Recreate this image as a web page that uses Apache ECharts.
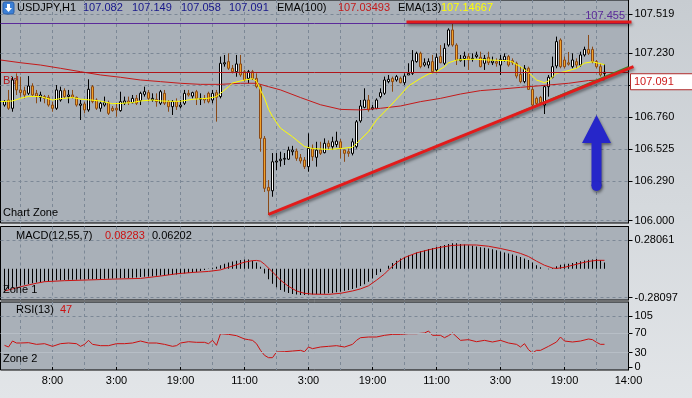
<!DOCTYPE html>
<html>
<head>
<meta charset="utf-8">
<script src="https://cdn.jsdelivr.net/npm/echarts@6/dist/echarts.min.js"></script>
<style>
html, body { margin: 0; padding: 0; }
#container { width: 692px; height: 398px; }
</style>
</head>
<body>
<div id="container"></div>
<script>
var FONT = '"Liberation Sans", Arial, sans-serif';
var GRID_DASH = '#7c8896';

// time labels along the bottom, one every 16 hourly bars
var timeLabels = ['8:00', '3:00', '19:00', '11:00', '3:00', '19:00', '11:00', '3:00', '19:00', '14:00'];
var priceTicks = [106.000, 106.290, 106.525, 106.760, 106.995, 107.230, 107.519];
var macdTicks = [-0.28097, 0.28061];
var rsiTicks = [0, 30, 70, 105];

// hourly candles [open, close, low, high], bars 1..151
var candles = [
  [106.850, 106.875, 106.838, 106.887], [106.887, 106.826, 106.814, 106.961], [106.826, 107.034, 106.801, 107.058],
  [107.034, 106.961, 106.924, 107.083], [106.961, 106.941, 106.912, 107.058], [106.956, 106.924, 106.899, 106.985],
  [106.936, 106.990, 106.924, 107.063], [106.990, 106.924, 106.912, 107.010], [106.936, 106.916, 106.863, 106.961],
  [106.907, 106.924, 106.875, 106.948], [106.912, 106.899, 106.863, 106.924], [106.907, 106.850, 106.838, 106.924],
  [106.850, 106.826, 106.801, 106.875], [106.826, 106.961, 106.814, 106.997], [106.887, 106.956, 106.875, 106.985],
  [106.956, 106.912, 106.899, 106.973], [106.912, 106.924, 106.863, 106.961], [106.924, 106.907, 106.899, 106.961],
  [106.907, 106.850, 106.838, 106.912], [106.848, 106.858, 106.740, 106.887], [106.858, 106.814, 106.789, 106.875],
  [106.814, 106.966, 106.801, 107.039], [106.985, 106.875, 106.863, 106.997], [106.887, 106.826, 106.814, 106.899],
  [106.826, 106.863, 106.801, 106.875], [106.850, 106.867, 106.838, 106.912], [106.867, 106.789, 106.777, 106.882],
  [106.826, 106.809, 106.801, 106.843], [106.826, 106.814, 106.765, 106.863], [106.809, 106.875, 106.801, 106.948],
  [106.863, 106.880, 106.850, 106.912], [106.880, 106.867, 106.850, 106.912], [106.867, 106.899, 106.863, 106.924],
  [106.899, 106.863, 106.850, 106.924], [106.882, 106.936, 106.850, 106.948], [106.929, 106.948, 106.912, 106.985],
  [106.941, 106.899, 106.875, 106.961], [106.887, 106.899, 106.875, 106.936], [106.892, 106.875, 106.838, 106.936],
  [106.863, 106.948, 106.850, 106.961], [106.936, 106.863, 106.850, 106.961], [106.875, 106.838, 106.801, 106.887],
  [106.838, 106.875, 106.777, 106.887], [106.875, 106.838, 106.814, 106.899], [106.838, 106.850, 106.826, 106.887],
  [106.863, 106.936, 106.850, 106.961], [106.936, 106.924, 106.912, 106.961], [106.916, 106.941, 106.899, 106.948],
  [106.948, 106.899, 106.850, 106.961], [106.892, 106.899, 106.850, 106.936], [106.899, 106.887, 106.863, 106.924],
  [106.936, 106.875, 106.863, 106.948], [106.887, 106.936, 106.863, 106.961], [106.941, 106.907, 106.728, 106.961],
  [106.912, 107.157, 106.899, 107.206], [107.152, 107.161, 107.132, 107.218], [107.169, 107.120, 107.108, 107.230],
  [107.120, 107.095, 107.083, 107.144], [107.095, 107.152, 107.058, 107.218], [107.152, 107.071, 107.058, 107.218],
  [107.095, 107.034, 107.022, 107.108], [107.046, 107.095, 107.010, 107.108], [107.095, 107.046, 107.034, 107.108],
  [107.046, 106.985, 106.973, 107.083], [106.985, 106.605, 106.507, 107.000], [106.605, 106.238, 106.211, 106.622],
  [106.245, 106.220, 106.042, 106.299], [106.220, 106.433, 106.176, 106.497], [106.431, 106.438, 106.372, 106.497],
  [106.441, 106.452, 106.397, 106.507], [106.452, 106.458, 106.409, 106.497], [106.452, 106.519, 106.446, 106.544],
  [106.507, 106.519, 106.480, 106.550], [106.512, 106.458, 106.440, 106.530], [106.463, 106.439, 106.420, 106.490],
  [106.446, 106.397, 106.380, 106.468], [106.397, 106.532, 106.360, 106.642], [106.532, 106.470, 106.440, 106.560],
  [106.466, 106.519, 106.397, 106.580], [106.519, 106.495, 106.483, 106.580], [106.500, 106.569, 106.495, 106.605],
  [106.569, 106.544, 106.520, 106.590], [106.544, 106.580, 106.520, 106.617], [106.560, 106.585, 106.540, 106.654],
  [106.580, 106.532, 106.458, 106.600], [106.519, 106.495, 106.433, 106.520], [106.507, 106.495, 106.470, 106.530],
  [106.495, 106.580, 106.480, 106.605], [106.544, 106.727, 106.530, 106.740], [106.733, 106.843, 106.720, 106.887],
  [106.833, 106.887, 106.826, 106.973], [106.887, 106.814, 106.801, 106.924], [106.821, 106.831, 106.814, 106.850],
  [106.826, 106.887, 106.819, 106.899], [106.912, 106.941, 106.899, 106.973], [106.936, 107.034, 106.924, 107.059],
  [107.022, 107.039, 107.010, 107.071], [107.046, 107.022, 106.948, 107.059], [107.034, 107.059, 107.022, 107.071],
  [107.046, 107.014, 107.010, 107.059], [107.014, 107.063, 106.997, 107.083], [107.071, 107.083, 107.071, 107.157],
  [107.083, 107.176, 107.071, 107.254], [107.169, 107.230, 107.161, 107.242], [107.230, 107.132, 107.120, 107.242],
  [107.144, 107.161, 107.132, 107.193], [107.144, 107.169, 107.120, 107.193], [107.169, 107.095, 107.083, 107.218],
  [107.108, 107.201, 107.088, 107.230], [107.206, 107.161, 107.157, 107.291], [107.157, 107.267, 107.144, 107.304],
  [107.291, 107.402, 107.279, 107.414], [107.402, 107.291, 107.279, 107.451], [107.291, 107.181, 107.144, 107.304],
  [107.176, 107.188, 107.169, 107.218], [107.193, 107.210, 107.132, 107.242], [107.206, 107.181, 107.108, 107.230],
  [107.186, 107.193, 107.169, 107.230], [107.206, 107.218, 107.193, 107.242], [107.201, 107.132, 107.127, 107.242],
  [107.157, 107.193, 107.108, 107.218], [107.201, 107.161, 107.144, 107.242], [107.161, 107.174, 107.144, 107.206],
  [107.169, 107.157, 107.132, 107.193], [107.144, 107.186, 107.071, 107.218], [107.181, 107.206, 107.169, 107.230],
  [107.206, 107.144, 107.132, 107.218], [107.176, 107.161, 107.144, 107.193], [107.157, 107.063, 107.046, 107.169],
  [107.076, 107.022, 107.010, 107.132], [107.022, 107.120, 107.010, 107.144], [107.120, 106.965, 106.961, 107.132],
  [106.965, 106.850, 106.843, 106.985], [106.899, 106.862, 106.850, 106.912], [106.907, 106.867, 106.850, 106.917],
  [106.850, 106.985, 106.784, 106.997], [106.985, 107.054, 106.912, 107.071], [107.054, 107.132, 107.046, 107.206],
  [107.137, 107.316, 107.120, 107.353], [107.328, 107.132, 107.120, 107.340], [107.181, 107.132, 107.120, 107.206],
  [107.160, 107.150, 107.140, 107.240], [107.132, 107.181, 107.120, 107.230], [107.169, 107.144, 107.120, 107.193],
  [107.144, 107.218, 107.132, 107.242], [107.218, 107.259, 107.206, 107.279], [107.259, 107.230, 107.218, 107.365],
  [107.259, 107.169, 107.157, 107.279], [107.169, 107.132, 107.120, 107.181], [107.132, 107.071, 107.059, 107.157],
  [107.082, 107.091, 107.058, 107.149]
];

// [bar, value]
var emaFast = [
  [0, 106.875], [3, 106.880], [5, 106.899], [7, 106.914], [10, 106.912], [13, 106.887], [15, 106.897], [18, 106.905],
  [20, 106.893], [23, 106.886], [25, 106.879], [28, 106.860], [30, 106.862], [33, 106.868], [35, 106.880], [38, 106.887],
  [40, 106.880], [43, 106.877], [45, 106.878], [48, 106.892], [52, 106.900], [54, 106.912], [55, 106.936], [57, 106.985],
  [58, 107.012], [61, 107.034], [63, 107.044], [64, 107.025], [65, 106.960], [66, 106.900], [67, 106.820], [68, 106.765],
  [70, 106.680], [73, 106.617], [76, 106.545], [78, 106.530], [82, 106.524], [85, 106.530], [88, 106.540], [89, 106.568],
  [92, 106.654], [94, 106.740], [97, 106.830], [100, 106.924], [102, 106.990], [105, 107.046], [107, 107.078],
  [109, 107.095], [111, 107.132], [112, 107.160], [114, 107.181], [117, 107.186], [119, 107.186], [122, 107.181],
  [127, 107.176], [128, 107.165], [130, 107.132], [132, 107.090], [134, 107.034], [136, 107.014], [137, 107.028],
  [139, 107.083], [141, 107.095], [144, 107.120], [146, 107.158], [148, 107.168], [151, 107.14667]
];
var emaSlow = [
  [0, 107.181], [5, 107.161], [10, 107.144], [15, 107.120], [20, 107.095], [25, 107.071], [30, 107.054], [35, 107.034],
  [40, 107.022], [45, 107.010], [50, 107.002], [55, 107.002], [60, 107.010], [64, 107.010], [67, 106.985], [70, 106.961],
  [75, 106.905], [80, 106.852], [85, 106.818], [90, 106.814], [95, 106.826], [100, 106.843], [105, 106.875],
  [110, 106.899], [115, 106.931], [120, 106.956], [125, 106.967], [130, 106.980], [135, 106.992], [142, 107.010],
  [147, 107.030], [151, 107.03493]
];

// MACD histogram, bars 1..151
var macdHist = [
  -0.205, -0.195, -0.185, -0.175, -0.165, -0.155, -0.148, -0.140, -0.133, -0.127,
  -0.122, -0.118, -0.115, -0.112, -0.110, -0.108, -0.107, -0.106, -0.105, -0.104,
  -0.103, -0.102, -0.100, -0.099, -0.098, -0.097, -0.096, -0.095, -0.094, -0.092,
  -0.090, -0.088, -0.086, -0.083, -0.080, -0.077, -0.074, -0.071, -0.068, -0.065,
  -0.062, -0.060, -0.058, -0.055, -0.050, -0.045, -0.040, -0.035, -0.030, -0.022,
  -0.012, -0.002, 0.010, 0.020, 0.035, 0.050, 0.062, 0.072, 0.080, 0.087,
  0.092, 0.090, 0.080, 0.062, 0.020, -0.045, -0.100, -0.145, -0.180, -0.205,
  -0.222, -0.235, -0.245, -0.250, -0.254, -0.255, -0.253, -0.250, -0.248, -0.245,
  -0.242, -0.238, -0.234, -0.228, -0.222, -0.214, -0.205, -0.195, -0.183, -0.168,
  -0.150, -0.125, -0.095, -0.060, -0.030, 0.000, 0.030, 0.058, 0.080, 0.100,
  0.115, 0.130, 0.145, 0.160, 0.172, 0.182, 0.192, 0.202, 0.212, 0.222,
  0.232, 0.242, 0.250, 0.248, 0.242, 0.236, 0.230, 0.225, 0.218, 0.210,
  0.205, 0.198, 0.190, 0.180, 0.170, 0.160, 0.150, 0.140, 0.128, 0.115,
  0.100, 0.085, 0.062, 0.035, 0.015, 0.002, -0.005, 0.008, 0.025, 0.040,
  0.045, 0.050, 0.058, 0.066, 0.074, 0.082, 0.088, 0.092, 0.095, 0.085, 0.06202
];
var macdSignal = [
  [1, -0.215], [3, -0.195], [6, -0.165], [9, -0.140], [11, -0.125], [16, -0.115], [22, -0.108], [28, -0.100],
  [35, -0.093], [40, -0.070], [44, -0.048], [48, -0.035], [52, -0.025], [55, -0.010], [57, 0.015], [59, 0.040],
  [61, 0.065], [63, 0.080], [64, 0.082], [65, 0.075], [66, 0.045], [68, -0.030], [70, -0.110], [72, -0.170],
  [74, -0.215], [76, -0.238], [78, -0.246], [82, -0.248], [85, -0.238], [88, -0.215], [90, -0.195], [92, -0.165],
  [94, -0.110], [96, -0.050], [97, -0.010], [99, 0.060], [101, 0.110], [104, 0.155], [107, 0.185], [110, 0.210],
  [113, 0.228], [116, 0.233], [119, 0.232], [122, 0.220], [125, 0.198], [128, 0.172], [130, 0.150], [132, 0.120],
  [134, 0.075], [136, 0.035], [138, 0.008], [139, 0.004], [141, 0.015], [143, 0.035], [145, 0.055], [147, 0.072],
  [149, 0.083], [151, 0.08283]
];
var rsi = [
  [1, 44.9], [2, 41.4], [3, 53.8], [4, 49.7], [5, 49.7], [7, 50.4], [9, 46.9], [11, 48.3], [13, 42.8], [15, 48.3],
  [17, 49.7], [19, 48.3], [20, 42.8], [21, 46.9], [22, 55.2], [23, 46.9], [25, 44.2], [27, 44.2], [29, 48.3],
  [31, 48.3], [33, 49.7], [35, 53.8], [37, 49.7], [39, 49.7], [41, 46.9], [43, 42.8], [44, 44.2], [45, 49.7],
  [47, 52.4], [49, 51.1], [51, 51.1], [52, 48.3], [53, 55.2], [54, 44.9], [55, 69.0], [57, 67.6], [59, 64.9],
  [61, 58.0], [62, 56.6], [63, 55.2], [64, 48.3], [65, 34.5], [66, 24.2], [67, 19.3], [68, 19.3], [69, 31.1],
  [71, 31.7], [73, 33.1], [75, 34.5], [76, 31.7], [77, 41.4], [78, 38.0], [80, 41.4], [82, 42.8], [84, 44.2],
  [86, 41.4], [88, 46.9], [89, 55.2], [90, 60.7], [92, 62.1], [94, 62.1], [96, 65.6], [98, 67.6], [100, 67.6],
  [102, 69.0], [104, 69.0], [106, 70.4], [107, 74.5], [108, 65.6], [110, 65.6], [111, 60.7], [112, 64.9],
  [113, 70.4], [115, 55.2], [117, 56.6], [119, 52.4], [121, 55.2], [123, 51.8], [125, 55.2], [127, 49.7],
  [129, 46.9], [130, 41.4], [131, 48.3], [132, 35.9], [133, 29.0], [134, 34.5], [135, 34.5], [137, 42.8],
  [139, 51.8], [140, 62.1], [141, 53.8], [143, 51.8], [145, 53.8], [147, 58.0], [148, 56.6], [149, 51.1],
  [150, 46.9], [151, 47]
];

// drawn objects: levels and the trend lines, in [bar, price]
var alertLevel = 107.455;
var resistance = [[101, 107.461], [157, 107.461]];
var trendLine = [[67, 106.047], [157, 107.117]];
var greenLine = [[129, 106.786], [157, 107.131]];
var arrowTip = [149, 106.777];

var categoryCount = 158;
var categories = [];
for (var i = 0; i < categoryCount; i++) categories.push(String(i));
function isLabelIdx(idx) { return idx >= 13 && (idx - 13) % 16 === 0; }
function isSplitIdx(idx) { return idx >= 5 && (idx - 5) % 8 === 0; }

var last = candles[candles.length - 1];
var bid = last[1];

var dom = document.getElementById('container');
var myChart = echarts.init(dom);

// half-pixel left edge keeps the 1px wicks and histogram bars crisp
var gridBox = { show: true, backgroundColor: '#a9b0b8', borderColor: '#000', borderWidth: 1, left: 0.5, width: 628 };
function xAxisFor(g) {
  return {
    type: 'category', gridIndex: g, data: categories, boundaryGap: false,
    axisLine: { show: false },
    axisTick: { show: g === 2, interval: isLabelIdx, length: 3, lineStyle: { color: '#000' } },
    axisLabel: {
      show: g === 2, interval: isLabelIdx, color: '#000', fontSize: 11, fontFamily: FONT, margin: 5,
      formatter: function (v, idx) { return timeLabels[(idx - 13) / 16]; }
    },
    splitLine: { show: true, interval: isSplitIdx, lineStyle: { color: GRID_DASH, type: [3, 3], width: 1 } }
  };
}
function yAxisFor(g, min, max, ticks, fmt, splitColors) {
  return {
    type: 'value', gridIndex: g, position: 'right', min: min, max: max,
    axisLine: { show: true, lineStyle: { color: '#000' } },
    axisTick: { show: true, customValues: ticks, length: 4, lineStyle: { color: '#000' } },
    axisLabel: { customValues: ticks, formatter: fmt, color: '#000', fontSize: 11, fontFamily: FONT, margin: 6 },
    splitLine: { show: true, lineStyle: { color: splitColors || GRID_DASH, type: [3, 3], width: 1 } }
  };
}

var option = {
  animation: false,
  backgroundColor: {
    type: 'linear', x: 0, y: 0, x2: 0, y2: 1,
    colorStops: [{ offset: 0, color: '#c7ccd1' }, { offset: 1, color: '#e2e5e8' }]
  },
  textStyle: { fontFamily: FONT },
  grid: [
    Object.assign({}, gridBox, { top: 0, height: 223 }),
    Object.assign({}, gridBox, { top: 226.5, height: 73.5 }),
    Object.assign({}, gridBox, { top: 302, height: 68 })
  ],
  xAxis: [xAxisFor(0), xAxisFor(1), xAxisFor(2)],
  yAxis: [
    yAxisFor(0, 105.983, 107.622, priceTicks, function (v) { return v.toFixed(3); }),
    yAxisFor(1, -0.303, 0.412, macdTicks, function (v) { return v.toFixed(5); }),
    yAxisFor(2, -6.2, 134.6, rsiTicks, function (v) { return String(v); },
      ['rgba(0,0,0,0)', 'rgba(0,0,0,0)', 'rgba(0,0,0,0)', GRID_DASH])
  ],
  series: [
    {
      name: 'USDJPY', type: 'candlestick', xAxisIndex: 0, yAxisIndex: 0,
      data: ['-'].concat(candles), barWidth: 2,
      itemStyle: { color: '#ffffff', color0: '#f2a22a', borderColor: '#000000', borderColor0: '#8a4a16', borderWidth: 1 },
      markLine: {
        silent: true, symbol: 'none', label: { show: false }, animation: false,
        data: [
          { yAxis: bid, lineStyle: { color: '#b0161b', width: 1, type: 'solid' } },
          { yAxis: alertLevel, lineStyle: { color: '#5b2a9a', width: 1, type: 'solid' } }
        ]
      }
    },
    {
      name: 'EMA(100)', type: 'line', xAxisIndex: 0, yAxisIndex: 0, data: emaSlow,
      showSymbol: false, z: 3, lineStyle: { color: '#c41a1a', width: 1 }
    },
    {
      name: 'EMA(13)', type: 'line', xAxisIndex: 0, yAxisIndex: 0, data: emaFast,
      showSymbol: false, z: 4, lineStyle: { color: '#ffff00', width: 1 }
    },
    {
      name: 'MACD', type: 'bar', xAxisIndex: 1, yAxisIndex: 1, data: ['-'].concat(macdHist),
      barWidth: 1, itemStyle: { color: '#000' }
    },
    {
      name: 'Signal', type: 'line', xAxisIndex: 1, yAxisIndex: 1, data: macdSignal,
      showSymbol: false, z: 4, lineStyle: { color: '#cc1111', width: 1 }
    },
    {
      name: 'RSI', type: 'line', xAxisIndex: 2, yAxisIndex: 2, data: rsi,
      showSymbol: false, lineStyle: { color: '#cc1111', width: 1 },
      markLine: {
        silent: true, symbol: 'none', label: { show: false }, animation: false,
        lineStyle: { color: '#b7bec6', width: 1, type: 'solid' },
        data: [{ yAxis: 30 }, { yAxis: 70 }]
      }
    }
  ]
};

myChart.setOption(option);

function toPx(p) { return myChart.convertToPixel({ gridIndex: 0 }, p); }
function txt(x, y, s, color, z) {
  return {
    type: 'text', x: x, y: y, z: z || 60, silent: true,
    style: { text: s, fill: color, font: '11px ' + FONT, textVerticalAlign: 'middle', verticalAlign: 'middle' }
  };
}
var shadow = { shadowColor: 'rgba(0,0,0,0.45)', shadowBlur: 3, shadowOffsetX: 1, shadowOffsetY: 2 };

var t1 = toPx(trendLine[0]), t2 = toPx(trendLine[1]);
var slope = (t2[1] - t1[1]) / (t2[0] - t1[0]);
var g1 = toPx(greenLine[0]), g2 = toPx(greenLine[1]);
var r1 = toPx(resistance[0]), r2 = toPx(resistance[1]);
var bidY = toPx([0, bid])[1];
var alertY = toPx([0, alertLevel])[1];
var tip = toPx(arrowTip);
var tx = tip[0], ty = tip[1];

var graphics = [
  // header icon
  { type: 'rect', z: 60, shape: { x: 3, y: 2, width: 11, height: 12, r: 2 }, style: { fill: '#3b7fd6', stroke: '#2a5fa8' } },
  { type: 'polygon', z: 61, shape: { points: [[8.5, 12], [5, 8], [7, 8], [7, 4], [10, 4], [10, 8], [12, 8]] }, style: { fill: '#fff' } },
  txt(17, 8, 'USDJPY,H1', '#000'),
  txt(83, 8, last[0].toFixed(3), '#16168a'),
  txt(132, 8, last[3].toFixed(3), '#16168a'),
  txt(181, 8, last[2].toFixed(3), '#16168a'),
  txt(229, 8, last[1].toFixed(3), '#16168a'),
  txt(277, 8, 'EMA(100)', '#000'),
  txt(338, 8, emaSlow[emaSlow.length - 1][1].toFixed(5), '#c41a1a'),
  txt(398, 8, 'EMA(13)', '#000'),
  txt(441, 8, emaFast[emaFast.length - 1][1].toFixed(5), '#ffff00'),
  txt(3, 81, 'Bid', '#b0161b', 1),
  txt(3, 213, 'Chart Zone', '#000'),
  txt(16, 236, 'MACD(12,55,7)', '#000'),
  txt(105, 236, macdSignal[macdSignal.length - 1][1].toFixed(5), '#cc1111'),
  txt(152, 236, macdHist[macdHist.length - 1].toFixed(5), '#000'),
  txt(3, 290, 'Zone 1', '#000'),
  txt(16, 310, 'RSI(13)', '#000'),
  txt(60, 310, String(rsi[rsi.length - 1][1]), '#cc1111'),
  txt(3, 359, 'Zone 2', '#000'),
  // alert level tag, partly hidden by the resistance line
  {
    type: 'text', x: 625, y: alertY - 1, z: 70, silent: true,
    style: { text: alertLevel.toFixed(3), fill: '#5b2a9a', font: '11px ' + FONT, align: 'right', textAlign: 'right', verticalAlign: 'bottom', textVerticalAlign: 'bottom' }
  },
  {
    type: 'line', z: 80, silent: true,
    shape: { x1: r1[0] + 2, y1: r1[1], x2: r2[0] + 3, y2: r2[1] },
    style: Object.assign({ stroke: '#e21b1b', lineWidth: 3 }, shadow)
  },
  {
    type: 'line', z: 79, silent: true,
    shape: { x1: g1[0], y1: g1[1], x2: g2[0], y2: g2[1] },
    style: { stroke: '#3f8a2c', lineWidth: 1.5 }
  },
  {
    type: 'line', z: 80, silent: true,
    shape: { x1: t1[0], y1: t1[1], x2: t2[0] + 5, y2: t2[1] + slope * 5 },
    style: Object.assign({ stroke: '#e21b1b', lineWidth: 3 }, shadow)
  },
  // last price tag
  {
    type: 'rect', z: 85, silent: true,
    shape: { x: 630.5, y: bidY + 1.5, width: 70, height: 16 },
    style: { fill: '#ffffff', stroke: '#b02a2a', lineWidth: 1 }
  },
  txt(634, bidY + 9.5, bid.toFixed(3), '#cc1a1a', 86),
  // blue arrow
  {
    type: 'group', z: 90, silent: true,
    children: [
      {
        type: 'polygon', z: 90,
        shape: { points: [[tx, ty], [tx + 14.5, ty + 28], [tx + 5, ty + 28], [tx + 5, ty + 71], [tx - 5, ty + 71], [tx - 5, ty + 28], [tx - 14.5, ty + 28]] },
        style: Object.assign({ fill: '#2626c9' }, shadow)
      },
      { type: 'circle', z: 90, shape: { cx: tx, cy: ty + 71, r: 5 }, style: Object.assign({ fill: '#2626c9' }, shadow) }
    ]
  }
];

myChart.setOption({ graphic: graphics });

window.onresize = function () {
  myChart.resize();
};
</script>
</body>
</html>
